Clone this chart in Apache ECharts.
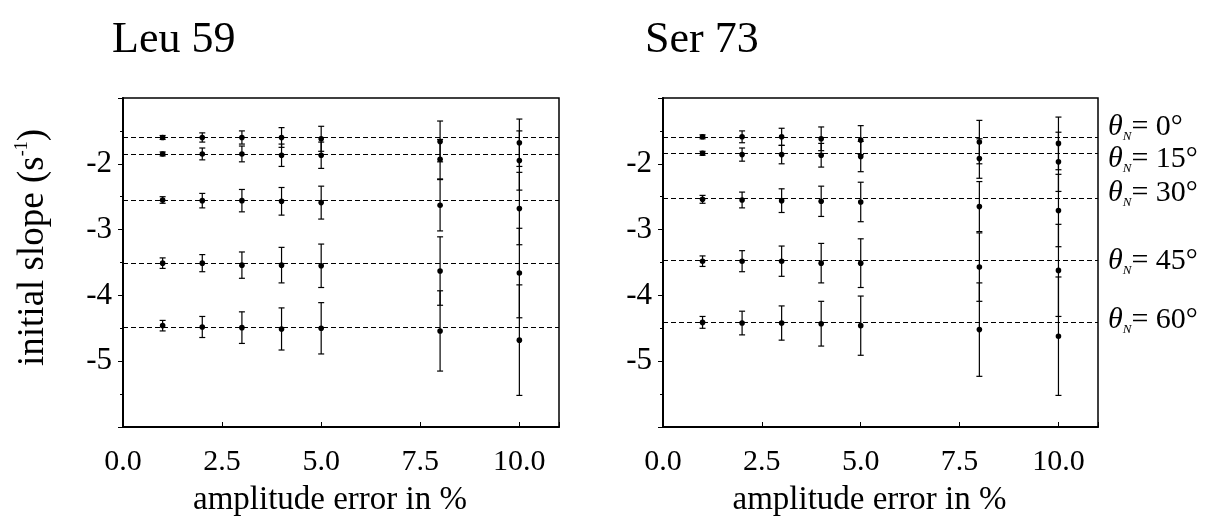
<!DOCTYPE html>
<html>
<head>
<meta charset="utf-8">
<script src="https://cdn.jsdelivr.net/npm/echarts@6/dist/echarts.min.js"></script>
<style>
html, body { margin: 0; padding: 0; background: #fff; }
#main { width: 1214px; height: 522px; }
</style>
</head>
<body>
<div id="main"></div>
<script>
var errorLevels = [1, 2, 3, 4, 5, 8, 10];
var thetaNames = ['0°', '15°', '30°', '45°', '60°'];
var panelTitles = ['Leu 59', 'Ser 73'];

// Leu 59: reference slopes and mean / error per theta (rows) per amplitude error (cols)
var leuRef = [-1.59, -1.85, -2.55, -3.51, -4.48];
var leuMean = [
  [-1.60, -1.60, -1.60, -1.60, -1.62, -1.66, -1.68],
  [-1.85, -1.85, -1.85, -1.87, -1.87, -1.93, -1.95],
  [-2.55, -2.56, -2.56, -2.57, -2.59, -2.63, -2.68],
  [-3.51, -3.51, -3.54, -3.54, -3.55, -3.63, -3.66],
  [-4.46, -4.48, -4.49, -4.51, -4.50, -4.54, -4.68]
];
var leuErr = [
  [0.03, 0.07, 0.10, 0.15, 0.19, 0.31, 0.36],
  [0.03, 0.09, 0.12, 0.17, 0.20, 0.30, 0.45],
  [0.05, 0.11, 0.17, 0.21, 0.25, 0.39, 0.55],
  [0.08, 0.13, 0.20, 0.27, 0.33, 0.52, 0.68],
  [0.08, 0.16, 0.24, 0.32, 0.39, 0.61, 0.84]
];

// Ser 73
var serRef = [-1.59, -1.84, -2.53, -3.47, -4.41];
var serMean = [
  [-1.59, -1.59, -1.59, -1.62, -1.64, -1.67, -1.69],
  [-1.84, -1.86, -1.86, -1.87, -1.89, -1.92, -1.97],
  [-2.54, -2.55, -2.56, -2.57, -2.58, -2.65, -2.71],
  [-3.48, -3.48, -3.48, -3.51, -3.51, -3.57, -3.62],
  [-4.41, -4.42, -4.42, -4.43, -4.46, -4.52, -4.62]
];
var serErr = [
  [0.03, 0.09, 0.13, 0.18, 0.22, 0.33, 0.40],
  [0.03, 0.10, 0.14, 0.18, 0.23, 0.30, 0.45],
  [0.06, 0.12, 0.18, 0.23, 0.30, 0.38, 0.55],
  [0.08, 0.16, 0.23, 0.30, 0.37, 0.52, 0.70],
  [0.09, 0.18, 0.26, 0.34, 0.45, 0.71, 0.90]
];

var FONT = 'Liberation Serif';
var myChart = echarts.init(document.getElementById('main'));

function renderBar(params, api) {
  var x = api.value(0);
  var lo = api.coord([x, api.value(1)]);
  var hi = api.coord([x, api.value(2)]);
  var mid = api.coord([x, api.value(3)]);
  var cap = 3;
  var st = { stroke: '#000', lineWidth: 1.2 };
  return {
    type: 'group',
    children: [
      { type: 'line', shape: { x1: hi[0], y1: hi[1], x2: lo[0], y2: lo[1] }, style: st },
      { type: 'line', shape: { x1: hi[0] - cap, y1: hi[1], x2: hi[0] + cap, y2: hi[1] }, style: st },
      { type: 'line', shape: { x1: lo[0] - cap, y1: lo[1], x2: lo[0] + cap, y2: lo[1] }, style: st },
      { type: 'circle', shape: { cx: mid[0], cy: mid[1], r: 2.8 }, style: { fill: '#000' } }
    ]
  };
}

function buildData(mean, err) {
  var out = [];
  for (var t = 0; t < mean.length; t++) {
    for (var i = 0; i < errorLevels.length; i++) {
      out.push([errorLevels[i], mean[t][i] - err[t][i], mean[t][i] + err[t][i], mean[t][i]]);
    }
  }
  return out;
}

// label offsets so the theta labels don't collide
var labelShift = [-10, 6, -6, 1, -2];

function buildLines(ref, withLabels) {
  return ref.map(function (v, k) {
    var item = { yAxis: v };
    if (withLabels) {
      item.label = {
        show: true,
        position: 'end',
        distance: 10,
        offset: [0, labelShift[k]],
        formatter: '{th|θ}{sub|N}{txt|= ' + thetaNames[k] + '}',
        rich: {
          th: { fontFamily: FONT, fontStyle: 'italic', fontSize: 30, color: '#000', lineHeight: 32 },
          sub: { fontFamily: FONT, fontStyle: 'italic', fontSize: 13, color: '#000', verticalAlign: 'bottom', lineHeight: 14 },
          txt: { fontFamily: FONT, fontSize: 30, color: '#000', lineHeight: 32 }
        }
      };
    } else {
      item.label = { show: false };
    }
    return item;
  });
}

function xAxisFor(idx) {
  return {
    gridIndex: idx,
    type: 'value',
    min: 0,
    max: 11,
    interval: 2.5,
    name: 'amplitude error in %',
    nameLocation: 'middle',
    nameGap: 57,
    nameTextStyle: { fontFamily: FONT, fontSize: 33, color: '#000', padding: [0, 22, 0, 0] },
    axisLine: { lineStyle: { color: '#000', width: 2 } },
    axisTick: { inside: true, length: 5, lineStyle: { color: '#000' } },
    axisLabel: {
      margin: 20,
      fontFamily: FONT,
      fontSize: 30,
      color: '#000',
      formatter: function (v) { return v > 10.5 ? '' : v.toFixed(1); }
    },
    splitLine: { show: false }
  };
}

function yAxisFor(idx) {
  var ax = {
    gridIndex: idx,
    type: 'value',
    min: -6,
    max: -1,
    interval: 1,
    axisLine: { lineStyle: { color: '#000', width: 2 } },
    axisTick: { length: 5, lineStyle: { color: '#000' } },
    minorTick: { show: true, splitNumber: 2, length: 3, lineStyle: { color: '#000' } },
    axisLabel: {
      margin: 11,
      fontFamily: FONT,
      fontSize: 31,
      color: '#000',
      showMinLabel: false,
      showMaxLabel: false,
      formatter: function (v) { return String(v); }
    },
    splitLine: { show: false }
  };
  if (idx === 0) {
    ax.name = '{t|initial slope (s}{sup|-1}{t|)}';
    ax.nameLocation = 'middle';
    ax.nameGap = 70;
    ax.nameTextStyle = {
      padding: [0, 0, 0, 30],
      rich: {
        t: { fontFamily: FONT, fontSize: 37, color: '#000', lineHeight: 40 },
        sup: { fontFamily: FONT, fontSize: 18, color: '#000', verticalAlign: 'top', lineHeight: 19 }
      }
    };
  }
  return ax;
}

var seriesList = [];
var panels = [[leuMean, leuErr, leuRef], [serMean, serErr, serRef]];
for (var p = 0; p < panels.length; p++) {
  seriesList.push({
    type: 'custom',
    xAxisIndex: p,
    yAxisIndex: p,
    renderItem: renderBar,
    encode: { x: 0, y: [1, 2, 3] },
    data: buildData(panels[p][0], panels[p][1]),
    markLine: {
      silent: true,
      symbol: 'none',
      animation: false,
      lineStyle: { color: '#000', type: [5, 3], width: 1 },
      data: buildLines(panels[p][2], p === 1)
    },
    z: 3
  });
}

var option = {
  backgroundColor: '#fff',
  animation: false,
  title: [
    { text: panelTitles[0], left: 107, top: 13, textStyle: { fontFamily: FONT, fontSize: 44, fontWeight: 'normal', color: '#000' } },
    { text: panelTitles[1], left: 640, top: 13, textStyle: { fontFamily: FONT, fontSize: 44, fontWeight: 'normal', color: '#000' } }
  ],
  grid: [
    { left: 123, top: 98, width: 436, height: 331, show: true, borderColor: '#000', borderWidth: 1.5, backgroundColor: 'transparent' },
    { left: 663, top: 98, width: 435, height: 332, show: true, borderColor: '#000', borderWidth: 1.5, backgroundColor: 'transparent' }
  ],
  xAxis: [xAxisFor(0), xAxisFor(1)],
  yAxis: [yAxisFor(0), yAxisFor(1)],
  series: seriesList
};

myChart.setOption(option);
</script>
</body>
</html>
